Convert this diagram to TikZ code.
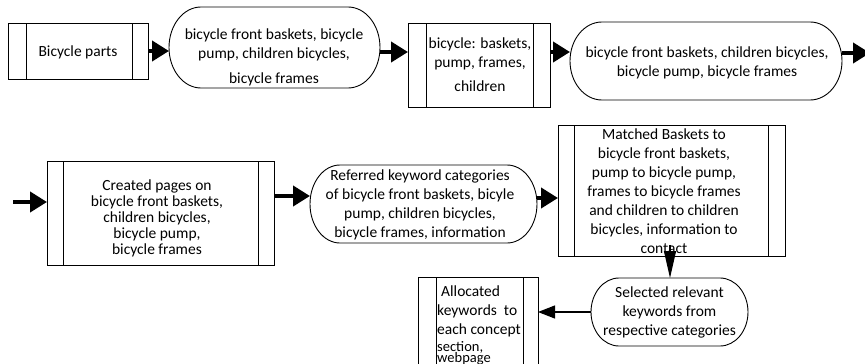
\documentclass[tikz,border=0pt]{standalone}
\usepackage{fontspec}
\setmainfont{Carlito}
\usetikzlibrary{arrows.meta}
\newcommand\stadiumdraw[3]{%
  \draw[outline] ([xshift=#2]#1.north west) -- ([xshift=-#2]#1.north east)
    arc[start angle=90,end angle=-90,x radius=#2,y radius=#3]
    -- ([xshift=#2]#1.south west)
    arc[start angle=270,end angle=90,x radius=#2,y radius=#3] -- cycle;}
\newcommand\subdraw[3]{%
  \draw[outline] (#1.north west) rectangle (#1.south east);
  \draw[outline] ([xshift=#2]#1.north west) -- ([xshift=#2]#1.south west);
  \draw[outline] ([xshift=-#3]#1.north east) -- ([xshift=-#3]#1.south east);}
\begin{document}
\begin{tikzpicture}[x=1pt,y=1pt,
  shapebox/.style={rectangle,draw=none,inner sep=0pt,outer sep=0pt},
  outline/.style={draw=black,line width=0.9pt},
  txt/.style={font=\fontsize{15.5}{19}\selectfont,align=center,inner sep=0pt},
  bigarrow/.style={line width=4pt,-{Triangle[length=17pt,width=20pt]}},
  vthin/.style={line width=1.1pt,-{Triangle[length=27pt,width=12pt]}},
  hthin/.style={line width=1.1pt,-{Triangle[length=17pt,width=13pt]}}]
\path[use as bounding box,clip] (0,0) rectangle (865,-364);
% shapes
\node[shapebox,minimum width=140pt,minimum height=56pt] (box1) at (78,-51) {};
\node[shapebox,minimum width=211pt,minimum height=81pt] (st2) at (274.5,-47.5) {};
\node[shapebox,minimum width=142pt,minimum height=84pt] (box3) at (479,-65) {};
\node[shapebox,minimum width=272pt,minimum height=78pt] (st4) at (706,-61) {};
\node[shapebox,minimum width=227pt,minimum height=104pt] (box5) at (160.5,-213) {};
\node[shapebox,minimum width=227pt,minimum height=78pt] (st6) at (423.5,-204) {};
\node[shapebox,minimum width=227pt,minimum height=131pt] (box7) at (671.5,-190.5) {};
\node[shapebox,minimum width=157pt,minimum height=68pt] (st8) at (669.5,-312) {};
\node[shapebox,minimum width=120pt,minimum height=103pt] (box9) at (478,-328.5) {};
\subdraw{box1}{18pt}{16pt}
\stadiumdraw{st2}{32pt}{40.5pt}
\subdraw{box3}{18pt}{17pt}
\stadiumdraw{st4}{32pt}{39pt}
\subdraw{box5}{16pt}{16pt}
\stadiumdraw{st6}{30pt}{39pt}
\subdraw{box7}{16pt}{17pt}
\stadiumdraw{st8}{28pt}{34pt}
\subdraw{box9}{18pt}{15pt}
% texts
\node[txt] (t1) at (78,-52) {Bicycle parts};
\node[txt] (t2) at (274,-57.5) {bicycle front baskets, bicycle\\pump, children bicycles,\\[6pt]bicycle frames};
\node[txt] (t3) at (480,-64.5) {bicycle: baskets,\\pump, frames,\\[5pt]children};
\node[txt] (t4) at (707,-62.5) {bicycle front baskets, children bicycles,\\bicycle pump, bicycle frames};
\node[txt,font=\fontsize{15.5}{15.8}\selectfont] (t5) at (157,-218.3) {Created pages on\\bicycle front baskets,\\children bicycles,\\bicycle pump,\\bicycle frames};
\node[txt] (t6) at (420,-205) {Referred keyword categories\\of bicycle front baskets, bicyle\\pump, children bicycles,\\bicycle frames, information};
\node[txt] (t7) at (664,-191.5) {Matched Baskets to\\bicycle front baskets,\\pump to bicycle pump,\\frames to bicycle frames\\and children to children\\bicycles, information to\\contact};
\node[txt] (t8) at (669.5,-312) {Selected relevant\\keywords from\\respective categories};
\node[txt,align=left,anchor=north west] (t9) at (437,-285.5) {\hspace{4pt}Allocated\\keywords\ \ to\\each concept\\[-2pt]{\fontsize{14.5}{19}\selectfont section,}\\[-8pt]{\fontsize{14.5}{19}\selectfont webpage}};
% connectors
\coordinate (a0) at (13,-202);
\coordinate (e4) at (870,-53);
\coordinate (a7) at (670,-245);
\draw[bigarrow] (box1.east) -- (box1.east -| st2.west);
\draw[bigarrow] ([yshift=-4.5pt]st2.east) -- ([yshift=-4.5pt]st2.east -| box3.west);
\draw[bigarrow] ([yshift=13pt]box3.east) -- ([yshift=13pt]box3.east -| st4.west);
\draw[bigarrow] ([yshift=8pt]st4.east) -- (e4);
\draw[bigarrow] (a0) -- (a0 -| box5.west);
\draw[bigarrow] ([yshift=17pt]box5.east) -- ([yshift=17pt]box5.east -| st6.west);
\draw[bigarrow] ([yshift=6pt]st6.east) -- ([yshift=6pt]st6.east -| box7.west);
\draw[vthin] (a7) -- (a7 |- st8.north);
\draw[hthin] (st8.west) -- (st8.west -| box9.east);
\end{tikzpicture}
\end{document}
